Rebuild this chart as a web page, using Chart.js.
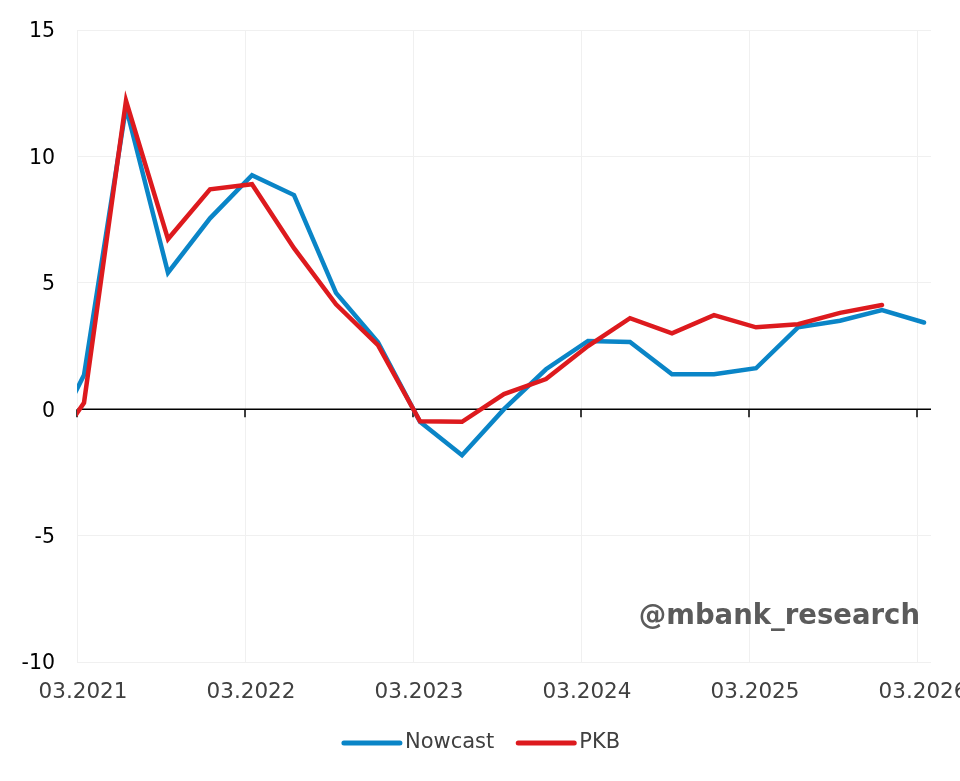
<!DOCTYPE html>
<html>
<head>
<meta charset="utf-8">
<script src="https://cdn.jsdelivr.net/npm/chart.js@4/dist/chart.umd.min.js"></script>
<style>
  html, body { margin: 0; padding: 0; background: #ffffff; }
  #wrap { width: 960px; height: 781px; }
</style>
</head>
<body>
<div id="wrap"><canvas id="c" width="960" height="781"></canvas></div>
<script>
// Quarters (year, quarter)
const quarters = ['2020Q4','2021Q1','2021Q2','2021Q3','2021Q4','2022Q1','2022Q2','2022Q3','2022Q4',
  '2023Q1','2023Q2','2023Q3','2023Q4','2024Q1','2024Q2','2024Q3','2024Q4','2025Q1','2025Q2','2025Q3','2025Q4','2026Q1'];
const nowcast = [-1.95, 1.35, 11.95, 5.4, 7.55, 9.26, 8.47, 4.6, 2.65, -0.5, -1.82, 0.0, 1.58, 2.7, 2.66, 1.38, 1.38, 1.62, 3.24, 3.5, 3.92, 3.43];
const pkb = [-2.15, 0.25, 12.2, 6.73, 8.7, 8.9, 6.37, 4.15, 2.53, -0.48, -0.5, 0.6, 1.19, 2.5, 3.6, 3.0, 3.72, 3.24, 3.36, 3.81, 4.12, null];
const xTickLabels = ['03.2021','03.2022','03.2023','03.2024','03.2025','03.2026'];
const yTicks = [-10, -5, 0, 5, 10, 15];

// month offset relative to 03.2021 (mid-month of the quarter's last month)
function qx(q) {
  const y = parseInt(q.slice(0, 4), 10), n = parseInt(q.slice(5), 10);
  return (y - 2021) * 12 + n * 3 - 3 + 0.5;
}
const nowcastPts = quarters.map((q, i) => ({ x: qx(q), y: nowcast[i] })).filter(p => p.y !== null);
const pkbPts = quarters.map((q, i) => ({ x: qx(q), y: pkb[i] })).filter(p => p.y !== null);

const FONT = '"DejaVu Sans", Verdana, sans-serif';
Chart.defaults.font.family = FONT;

const zeroLinePlugin = {
  id: 'zeroLine',
  beforeDatasetsDraw(chart) {
    const { ctx, chartArea, scales } = chart;
    const y0 = scales.y.getPixelForValue(0);
    ctx.save();
    ctx.strokeStyle = '#000000';
    ctx.lineWidth = 1.5;
    ctx.beginPath();
    ctx.moveTo(chartArea.left, y0);
    ctx.lineTo(chartArea.right, y0);
    scales.x.ticks.forEach(t => {
      const px = scales.x.getPixelForValue(t.value);
      ctx.moveTo(px, y0);
      ctx.lineTo(px, y0 + 8);
    });
    ctx.stroke();
    ctx.restore();
  }
};

const watermarkPlugin = {
  id: 'watermark',
  afterDraw(chart) {
    const { ctx } = chart;
    ctx.save();
    ctx.font = 'bold 27.5px ' + FONT;
    ctx.fillStyle = '#5b5b5b';
    ctx.textAlign = 'right';
    ctx.textBaseline = 'alphabetic';
    ctx.fillText('@mbank_research', 920, 624);
    ctx.restore();
  }
};

// simple bottom legend: line sample + label, centred
const legendPlugin = {
  id: 'lineLegend',
  afterDraw(chart) {
    const { ctx } = chart;
    const lineLen = 52, lineW = 5, gapText = 9, gapItem = 24, cy = 743;
    ctx.save();
    ctx.font = '21px ' + FONT;
    const items = chart.data.datasets.map(ds => ({ label: ds.label, color: ds.borderColor, w: ctx.measureText(ds.label).width }));
    const total = items.reduce((s, it) => s + lineLen + gapText + it.w, 0) + gapItem * (items.length - 1);
    let x = chart.width / 2 + 2 - total / 2;
    items.forEach(it => {
      ctx.strokeStyle = it.color;
      ctx.lineWidth = lineW;
      ctx.lineCap = 'round';
      ctx.beginPath();
      ctx.moveTo(x, cy);
      ctx.lineTo(x + lineLen + 4, cy);
      ctx.stroke();
      ctx.fillStyle = '#404040';
      ctx.textAlign = 'left';
      ctx.textBaseline = 'middle';
      ctx.fillText(it.label, x + lineLen + gapText, cy);
      x += lineLen + gapText + it.w + gapItem;
    });
    ctx.restore();
  }
};

new Chart(document.getElementById('c'), {
  type: 'line',
  data: {
    datasets: [
      { label: 'Nowcast', data: nowcastPts, borderColor: '#0a85c7', backgroundColor: '#0a85c7',
        borderWidth: 4.5, pointRadius: 0, tension: 0, borderCapStyle: 'round', borderJoinStyle: 'miter', order: 1 },
      { label: 'PKB', data: pkbPts, borderColor: '#dd1a1e', backgroundColor: '#dd1a1e',
        borderWidth: 4.5, pointRadius: 0, tension: 0, borderCapStyle: 'round', borderJoinStyle: 'miter', order: 0 }
    ]
  },
  options: {
    responsive: false,
    animation: false,
    devicePixelRatio: 1,
    layout: { padding: { left: 0, top: 30, right: 29, bottom: 58 } },
    plugins: {
      tooltip: { enabled: false },
      legend: { display: false }
    },
    scales: {
      x: {
        type: 'linear',
        min: 0,
        max: 61,
        border: { display: false },
        grid: { color: '#f0f0f0', lineWidth: 1, drawTicks: false },
        ticks: {
          stepSize: 12,
          includeBounds: false,
          autoSkip: false,
          maxRotation: 0,
          labelOffset: 6,
          padding: 18,
          color: '#404040',
          font: { size: 21.5 },
          callback: (v) => xTickLabels[Math.round(v / 12)] || ''
        },
        afterFit(scale) { scale.height = 61; scale.paddingLeft = 0; scale.paddingRight = 0; scale.paddingTop = 0; scale.paddingBottom = 0; }
      },
      y: {
        type: 'linear',
        min: -10,
        max: 15,
        border: { display: false },
        grid: { color: (c) => c.tick && c.tick.value === 0 ? 'rgba(0,0,0,0)' : '#f0f0f0', lineWidth: 1, drawTicks: false },
        afterBuildTicks(scale) { scale.ticks = yTicks.map(v => ({ value: v })); },
        ticks: {
          padding: 22,
          labelOffset: 2,
          color: '#000000',
          font: { size: 20.5 }
        },
        afterFit(scale) { scale.width = 77; scale.paddingTop = 0; scale.paddingBottom = 0; scale.paddingLeft = 0; scale.paddingRight = 0; }
      }
    }
  },
  plugins: [zeroLinePlugin, watermarkPlugin, legendPlugin]
});
</script>
</body>
</html>
